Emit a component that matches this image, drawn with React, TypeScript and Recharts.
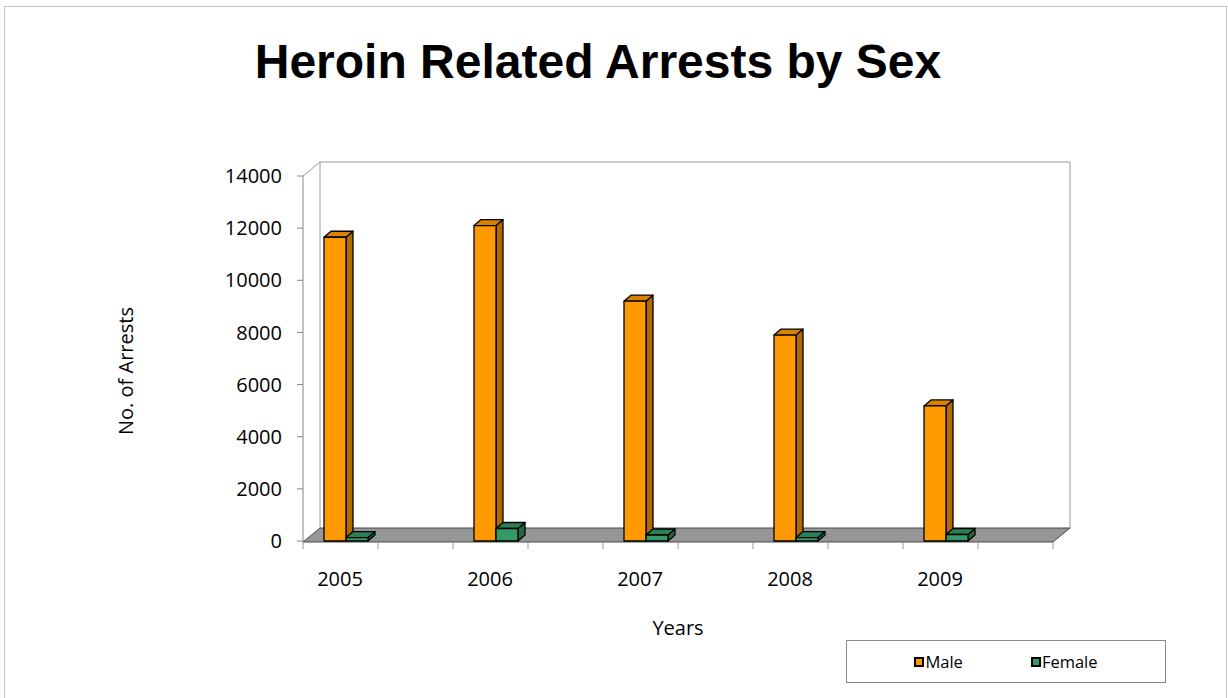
import React from "react";
import { ComposedChart, Bar, XAxis, YAxis, Legend } from "recharts";

// values
const years = ["2005", "2006", "2007", "2008", "2009"];
const maleArrests = [11650, 12100, 9200, 7900, 5180];
const femaleArrests = [130, 480, 230, 130, 250];
const yTicks = [0, 2000, 4000, 6000, 8000, 10000, 12000, 14000];
const seriesOrder = ["Male", "Female"];

const data = years.map((year, i) => ({
  year,
  Male: maleArrests[i],
  Female: femaleArrests[i],
}));

const W = 1228;
const H = 698;
// front face of the 3D plot box
const PL = 303;
const PR = 1053;
const PT = 176;
const PB = 541;
const DX = 17; // depth of the box
const DY = 13;

const Y_AXIS_W = 80;
const X_AXIS_H = 40;
const LEGEND_H = 43; // recharts reserves this below the x axis

interface BoxProps {
  x?: number;
  y?: number;
  width?: number;
  height?: number;
  front: string;
  side: string;
  top: string;
}

function Box3D({ x = 0, y = 0, width = 0, height = 0, front, side, top }: BoxProps) {
  const dx = 7;
  const dy = 6;
  const r = x + width;
  const b = y + height;
  return (
    <g stroke="#000" strokeWidth={1.3} strokeLinejoin="round">
      <polygon
        points={`${r},${y} ${r + dx},${y - dy} ${r + dx},${b - dy} ${r},${b}`}
        fill={side}
      />
      <polygon
        points={`${x},${y} ${x + dx},${y - dy} ${r + dx},${y - dy} ${r},${y}`}
        fill={top}
      />
      <rect x={x} y={y} width={width} height={height} fill={front} />
    </g>
  );
}

function Frame() {
  const ticks = Array.from({ length: 11 }, (_, k) => PL + ((PR - PL) / 10) * k);
  return (
    <g>
      <rect x={4.5} y={6.5} width={1222} height={700} fill="none" stroke="#c4c4c4" />
      {/* back walls */}
      <polyline
        points={`${PL},${PT} ${PL + DX},${PT - DY - 1} ${PR + DX},${PT - DY - 1} ${PR + DX},${PB - DY}`}
        fill="none"
        stroke="#9a9a9a"
      />
      <line x1={PL + DX} y1={PT - DY - 1} x2={PL + DX} y2={PB - DY} stroke="#9a9a9a" />
      {/* floor */}
      <polygon
        points={`${PL},${PB + 1} ${PL + DX},${PB - DY} ${PR + DX},${PB - DY} ${PR},${PB + 1}`}
        fill="#969696"
        stroke="#4a4a4a"
        strokeWidth={1}
      />
      {ticks.map((tx) => (
        <line key={tx} x1={tx} y1={PB + 1} x2={tx} y2={PB + 8} stroke="#9a9a9a" />
      ))}
      <text
        x={598}
        y={78}
        textAnchor="middle"
        fontFamily="Liberation Sans, Arial, sans-serif"
        fontWeight="bold"
        fontSize={48}
        fill="#000"
      >
        Heroin Related Arrests by Sex
      </text>
      <text
        x={125}
        y={371}
        textAnchor="middle"
        dominantBaseline="central"
        fontSize={20}
        fill="#000"
        transform="rotate(-90, 125, 371)"
      >
        No. of Arrests
      </text>
      <text x={678} y={635} textAnchor="middle" fontSize={20} fill="#000">
        Years
      </text>
    </g>
  );
}

function YearTick(props: any) {
  const { x, y, payload } = props;
  return (
    <text x={x - 6} y={y} dy={14} textAnchor="middle" fontSize={20} fill="#000">
      {payload.value}
    </text>
  );
}

function LegendBox(props: any) {
  const items = [...(props.payload || [])].sort(
    (a: any, b: any) => seriesOrder.indexOf(a.value) - seriesOrder.indexOf(b.value)
  );
  return (
    <div
      style={{
        width: 320,
        height: LEGEND_H,
        boxSizing: "border-box",
        border: "1px solid #8a8a8a",
        background: "#fff",
        display: "flex",
        alignItems: "center",
        justifyContent: "center",
        gap: 68,
        fontSize: 16.5,
        color: "#000",
      }}
    >
      {items.map((it: any) => (
        <div key={it.value} style={{ display: "flex", alignItems: "center" }}>
          <span
            style={{
              display: "inline-block",
              width: 10,
              height: 10,
              boxSizing: "border-box",
              border: "2px solid #000",
              background: it.color,
              marginRight: 1,
            }}
          />
          {it.value}
        </div>
      ))}
    </div>
  );
}

export default function App() {
  return (
    <div
      style={{
        position: "absolute",
        left: 0,
        top: 0,
        width: W,
        height: H,
        background: "#fff",
        fontFamily: "'Open Sans', sans-serif",
      }}
    >
      <ComposedChart
        width={W}
        height={H}
        data={data}
        barSize={22}
        barGap={0}
        margin={{
          top: PT,
          left: PL - Y_AXIS_W,
          right: W - PR,
          bottom: H - PB - X_AXIS_H - LEGEND_H,
        }}
      >
        <Frame />
        <XAxis
          dataKey="year"
          height={X_AXIS_H}
          padding={{ left: -32, right: 32 }}
          axisLine={false}
          tickLine={false}
          tickSize={0}
          tickMargin={31}
          tick={<YearTick />}
          interval={0}
        />
        <YAxis
          width={Y_AXIS_W}
          domain={[0, 14000]}
          ticks={yTicks}
          interval={0}
          stroke="#868686"
          tickSize={6}
          tickMargin={15}
          tick={{ fill: "#000", fontSize: 20 }}
        />
        <Legend
          content={<LegendBox />}
          wrapperStyle={{ position: "absolute", left: 846, top: 640, width: 320, height: LEGEND_H }}
        />
        <Bar
          dataKey="Male"
          fill="#FF9900"
          isAnimationActive={false}
          shape={(p: any) => <Box3D {...p} front="#FF9900" side="#B06A00" top="#D98200" />}
        />
        <Bar
          dataKey="Female"
          fill="#339966"
          isAnimationActive={false}
          shape={(p: any) => <Box3D {...p} front="#339966" side="#226644" top="#2A7F55" />}
        />
      </ComposedChart>
    </div>
  );
}
